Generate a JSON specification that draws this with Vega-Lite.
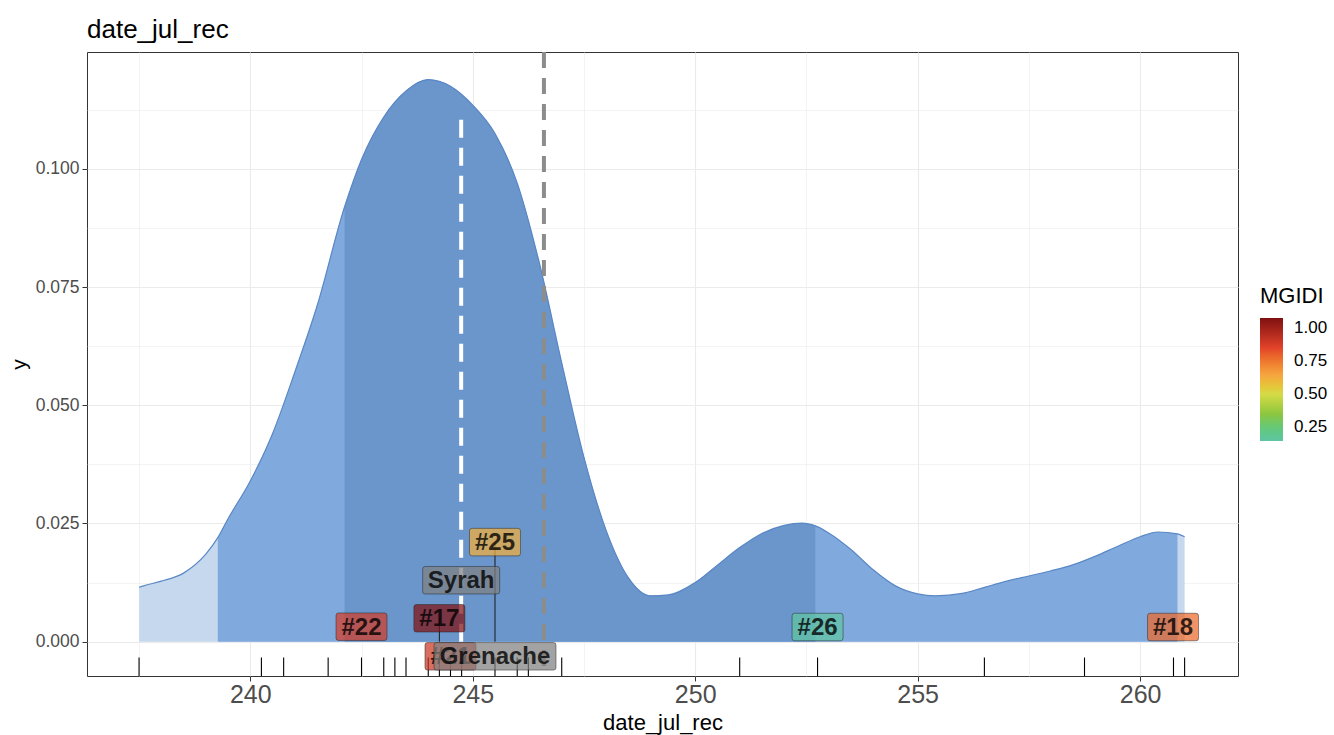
{
  "$schema": "https://vega.github.io/schema/vega-lite/v6.json",
  "width": 1151,
  "height": 624,
  "autosize": {"type": "none"},
  "padding": {"left": 87, "top": 52, "right": 96, "bottom": 59},
  "background": "white",
  "title": {"text": "date_jul_rec", "anchor": "start", "frame": "group", "fontSize": 26, "font": "Liberation Sans", "fontWeight": "normal", "color": "#000000", "offset": 7},
  "config": {
    "font": "Liberation Sans",
    "view": {"stroke": "#333333", "strokeWidth": 1}
  },
  "datasets": {
    "dens": [
      {"x": 237.5, "y": 0.0115}, {"x": 237.6, "y": 0.0118}, {"x": 238.0, "y": 0.0128}, {"x": 238.5, "y": 0.0145},
      {"x": 239.0, "y": 0.0185}, {"x": 239.27, "y": 0.022}, {"x": 239.5, "y": 0.026}, {"x": 240.0, "y": 0.034},
      {"x": 240.5, "y": 0.044}, {"x": 241.0, "y": 0.057}, {"x": 241.5, "y": 0.071}, {"x": 242.12, "y": 0.092},
      {"x": 242.5, "y": 0.102}, {"x": 243.0, "y": 0.111}, {"x": 243.5, "y": 0.1165}, {"x": 244.0, "y": 0.1189},
      {"x": 244.5, "y": 0.1175}, {"x": 245.0, "y": 0.1135}, {"x": 245.5, "y": 0.1075}, {"x": 246.0, "y": 0.097},
      {"x": 246.5, "y": 0.080}, {"x": 247.0, "y": 0.059}, {"x": 247.5, "y": 0.039}, {"x": 248.0, "y": 0.0235},
      {"x": 248.5, "y": 0.0135}, {"x": 249.0, "y": 0.0097}, {"x": 249.4, "y": 0.0099}, {"x": 250.0, "y": 0.0125},
      {"x": 250.5, "y": 0.0162}, {"x": 251.0, "y": 0.0199}, {"x": 251.5, "y": 0.0229}, {"x": 252.0, "y": 0.0246},
      {"x": 252.4, "y": 0.0251}, {"x": 252.7, "y": 0.0245}, {"x": 253.0, "y": 0.023}, {"x": 253.5, "y": 0.0195},
      {"x": 254.0, "y": 0.0152}, {"x": 254.5, "y": 0.0118}, {"x": 255.0, "y": 0.0101}, {"x": 255.4, "y": 0.0097},
      {"x": 256.0, "y": 0.0102}, {"x": 256.5, "y": 0.0115}, {"x": 257.0, "y": 0.0128}, {"x": 257.5, "y": 0.0139},
      {"x": 258.0, "y": 0.015}, {"x": 258.5, "y": 0.0163}, {"x": 259.0, "y": 0.0181}, {"x": 259.5, "y": 0.0202},
      {"x": 260.0, "y": 0.0222}, {"x": 260.4, "y": 0.0232}, {"x": 260.84, "y": 0.0228}, {"x": 261.0, "y": 0.0222}
    ],
    "rug": [
      {"x": 237.5}, {"x": 240.25}, {"x": 240.75}, {"x": 241.75}, {"x": 242.5}, {"x": 243.0}, {"x": 243.25},
      {"x": 243.5}, {"x": 244.0}, {"x": 244.25}, {"x": 244.5}, {"x": 244.75}, {"x": 245.5}, {"x": 246.0},
      {"x": 246.25}, {"x": 247.0}, {"x": 251.0}, {"x": 252.75}, {"x": 256.5}, {"x": 258.75}, {"x": 260.75}, {"x": 261.0}
    ],
    "labels": [
      {"label": "#22", "x": 242.5, "y": 0.00317, "MGIDI": 0.88},
      {"label": "#25", "x": 245.5, "y": 0.02106, "MGIDI": 0.62},
      {"label": "Syrah", "x": 244.74, "y": 0.0130, "MGIDI": null},
      {"label": "#17", "x": 244.25, "y": 0.00495, "MGIDI": 1.07},
      {"label": "#21", "x": 244.5, "y": -0.0031, "MGIDI": 0.9},
      {"label": "Grenache", "x": 245.5, "y": -0.0031, "MGIDI": null},
      {"label": "#26", "x": 252.75, "y": 0.0031, "MGIDI": 0.15},
      {"label": "#18", "x": 260.74, "y": 0.0031, "MGIDI": 0.78}
    ],
    "segs": [
      {"x": 244.25, "y": 0, "y2": 0.00495},
      {"x": 245.5, "y": 0, "y2": 0.02106}
    ]
  },
  "layer": [
    {
      "data": {"name": "dens"},
      "mark": {"type": "area", "color": "#c5d8ee", "interpolate": "monotone"},
      "encoding": {
        "x": {"field": "x", "type": "quantitative",
          "scale": {"domain": [236.33, 262.2], "nice": false, "zero": false},
          "axis": {
            "title": "date_jul_rec", "values": [237.5, 240, 242.5, 245, 247.5, 250, 252.5, 255, 257.5, 260],
            "labelExpr": "datum.value % 5 === 0 ? format(datum.value, 'd') : ''",
            "domain": false, "grid": true, "gridColor": "#ebebeb",
            "gridWidth": {"condition": {"test": "datum.value % 5 === 0", "value": 1.1}, "value": 0.6},
            "tickColor": "#333333",
            "tickOpacity": {"condition": {"test": "datum.value % 5 === 0", "value": 1}, "value": 0},
            "tickSize": 5, "labelFontSize": 25, "labelColor": "#4d4d4d", "labelPadding": 1,
            "titleFontSize": 22, "titleColor": "#000000", "titleFontWeight": "normal", "titlePadding": 5
          }
        },
        "y": {"field": "y", "type": "quantitative",
          "scale": {"domain": [-0.00726, 0.12474], "nice": false, "zero": false},
          "axis": {
            "title": "y", "values": [0, 0.0125, 0.025, 0.0375, 0.05, 0.0625, 0.075, 0.0875, 0.1, 0.1125],
            "labelExpr": "round(datum.value*400) % 10 === 0 ? format(datum.value, '.3f') : ''",
            "domain": false, "grid": true, "gridColor": "#ebebeb",
            "gridWidth": {"condition": {"test": "round(datum.value*400) % 10 === 0", "value": 1.1}, "value": 0.6},
            "tickColor": "#333333",
            "tickOpacity": {"condition": {"test": "round(datum.value*400) % 10 === 0", "value": 1}, "value": 0},
            "tickSize": 5, "labelFontSize": 17.5, "labelColor": "#4d4d4d", "labelPadding": 3,
            "titleFontSize": 21, "titleColor": "#000000", "titleFontWeight": "normal", "titlePadding": 6
          }
        }
      }
    },
    {
      "data": {"name": "dens"},
      "transform": [{"filter": {"field": "x", "range": [239.27, 260.84]}}],
      "mark": {"type": "area", "color": "#80aadd", "interpolate": "monotone"},
      "encoding": {
        "x": {"field": "x", "type": "quantitative"},
        "y": {"field": "y", "type": "quantitative"}
      }
    },
    {
      "data": {"name": "dens"},
      "transform": [{"filter": {"field": "x", "range": [242.12, 252.7]}}],
      "mark": {"type": "area", "color": "#6a96cc", "interpolate": "monotone"},
      "encoding": {
        "x": {"field": "x", "type": "quantitative"},
        "y": {"field": "y", "type": "quantitative"}
      }
    },
    {
      "data": {"name": "dens"},
      "mark": {"type": "line", "color": "#5a87c5", "strokeWidth": 1.2, "interpolate": "monotone"},
      "encoding": {
        "x": {"field": "x", "type": "quantitative"},
        "y": {"field": "y", "type": "quantitative"}
      }
    },
    {
      "data": {"name": "rug"},
      "mark": {"type": "rule", "color": "#000000", "strokeWidth": 1.1},
      "encoding": {
        "x": {"field": "x", "type": "quantitative"},
        "y": {"datum": -0.00726, "type": "quantitative"},
        "y2": {"datum": -0.00335}
      }
    },
    {
      "data": {"values": [{"x": 244.74, "y": 0, "y2": 0.1125}]},
      "mark": {"type": "rule", "color": "#ffffff", "strokeWidth": 4, "strokeDash": [18, 10]},
      "encoding": {
        "x": {"field": "x", "type": "quantitative"},
        "y": {"field": "y", "type": "quantitative"},
        "y2": {"field": "y2"}
      }
    },
    {
      "data": {"values": [{"x": 246.6}]},
      "mark": {"type": "rule", "color": "#8c8c8c", "strokeWidth": 4, "strokeDash": [16, 10]},
      "encoding": {
        "x": {"field": "x", "type": "quantitative"}
      }
    },
    {
      "data": {"name": "segs"},
      "mark": {"type": "rule", "color": "#1a1a1a", "strokeWidth": 1},
      "encoding": {
        "x": {"field": "x", "type": "quantitative"},
        "y": {"field": "y", "type": "quantitative"},
        "y2": {"field": "y2"}
      }
    },
    {
      "data": {"name": "labels"},
      "transform": [{"filter": "datum.label !== 'Grenache'"}],
      "mark": {"type": "point", "filled": true, "size": 2500, "fillOpacity": 0.72, "stroke": "#222222", "strokeWidth": 0.8, "strokeOpacity": 0.6, "invalid": "show"},
      "encoding": {
        "x": {"field": "x", "type": "quantitative"},
        "y": {"field": "y", "type": "quantitative"},
        "shape": {"field": "label", "type": "nominal", "legend": null,
          "scale": {
            "domain": ["#22", "#25", "Syrah", "#17", "#21", "Grenache", "#26", "#18"],
            "range": [
              "M-0.92,-0.55H0.92Q1.02,-0.55 1.02,-0.45V0.45Q1.02,0.55 0.92,0.55H-0.92Q-1.02,0.55 -1.02,0.45V-0.45Q-1.02,-0.55 -0.92,-0.55Z",
              "M-0.92,-0.55H0.92Q1.02,-0.55 1.02,-0.45V0.45Q1.02,0.55 0.92,0.55H-0.92Q-1.02,0.55 -1.02,0.45V-0.45Q-1.02,-0.55 -0.92,-0.55Z",
              "M-1.44,-0.55H1.44Q1.54,-0.55 1.54,-0.45V0.45Q1.54,0.55 1.44,0.55H-1.44Q-1.54,0.55 -1.54,0.45V-0.45Q-1.54,-0.55 -1.44,-0.55Z",
              "M-0.92,-0.55H0.92Q1.02,-0.55 1.02,-0.45V0.45Q1.02,0.55 0.92,0.55H-0.92Q-1.02,0.55 -1.02,0.45V-0.45Q-1.02,-0.55 -0.92,-0.55Z",
              "M-0.92,-0.55H0.92Q1.02,-0.55 1.02,-0.45V0.45Q1.02,0.55 0.92,0.55H-0.92Q-1.02,0.55 -1.02,0.45V-0.45Q-1.02,-0.55 -0.92,-0.55Z",
              "M-2.34,-0.55H2.34Q2.44,-0.55 2.44,-0.45V0.45Q2.44,0.55 2.34,0.55H-2.34Q-2.44,0.55 -2.44,0.45V-0.45Q-2.44,-0.55 -2.34,-0.55Z",
              "M-0.92,-0.55H0.92Q1.02,-0.55 1.02,-0.45V0.45Q1.02,0.55 0.92,0.55H-0.92Q-1.02,0.55 -1.02,0.45V-0.45Q-1.02,-0.55 -0.92,-0.55Z",
              "M-0.92,-0.55H0.92Q1.02,-0.55 1.02,-0.45V0.45Q1.02,0.55 0.92,0.55H-0.92Q-1.02,0.55 -1.02,0.45V-0.45Q-1.02,-0.55 -0.92,-0.55Z"
            ]
          }
        },
        "color": {
          "condition": {"test": "datum.MGIDI == null", "value": "#7f7f7f"},
          "field": "MGIDI", "type": "quantitative",
          "scale": {
            "domain": [0.147, 0.35, 0.5, 0.65, 0.85, 1.075],
            "range": ["#5fc5a2", "#8cc63f", "#d5db47", "#f6a33f", "#e2432a", "#7f1010"]
          },
          "legend": {
            "title": "MGIDI", "orient": "none", "legendX": 1173, "legendY": 234, "direction": "vertical",
            "titleFontSize": 22, "titleFontWeight": "normal", "titleColor": "#000000", "titlePadding": 10,
            "labelFontSize": 17, "labelColor": "#000000", "labelOffset": 11,
            "gradientLength": 123, "gradientThickness": 23, "gradientStrokeWidth": 0,
            "values": [0.25, 0.5, 0.75, 1.0], "format": ".2f", "padding": 0
          }
        }
      }
    },
    {
      "data": {"name": "labels"},
      "transform": [{"filter": "datum.label !== 'Grenache'"}],
      "mark": {"type": "text", "fontSize": 24, "fontWeight": "bold", "align": "center", "baseline": "middle", "dy": 1, "color": "#000000", "opacity": 0.78},
      "encoding": {
        "x": {"field": "x", "type": "quantitative"},
        "y": {"field": "y", "type": "quantitative"},
        "text": {"field": "label", "type": "nominal"}
      }
    },
    {
      "data": {"name": "labels"},
      "transform": [{"filter": "datum.label === 'Grenache'"}],
      "mark": {"type": "point", "filled": true, "size": 2500, "fillOpacity": 0.72, "color": "#7f7f7f", "stroke": "#222222", "strokeWidth": 0.8, "strokeOpacity": 0.6,
        "shape": "M-2.34,-0.55H2.34Q2.44,-0.55 2.44,-0.45V0.45Q2.44,0.55 2.34,0.55H-2.34Q-2.44,0.55 -2.44,0.45V-0.45Q-2.44,-0.55 -2.34,-0.55Z"},
      "encoding": {
        "x": {"field": "x", "type": "quantitative"},
        "y": {"field": "y", "type": "quantitative"}
      }
    },
    {
      "data": {"name": "labels"},
      "transform": [{"filter": "datum.label === 'Grenache'"}],
      "mark": {"type": "text", "fontSize": 24, "fontWeight": "bold", "align": "center", "baseline": "middle", "dy": 1, "color": "#000000", "opacity": 0.78},
      "encoding": {
        "x": {"field": "x", "type": "quantitative"},
        "y": {"field": "y", "type": "quantitative"},
        "text": {"field": "label", "type": "nominal"}
      }
    }
  ]
}
